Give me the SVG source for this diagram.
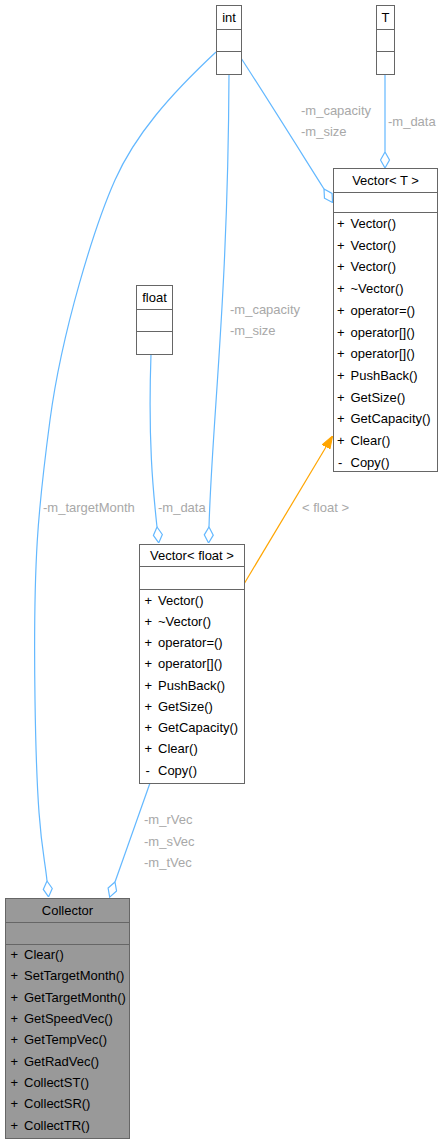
<svg xmlns="http://www.w3.org/2000/svg" width="446" height="1144" viewBox="0 0 446 1144">
<style>
.box{fill:#ffffff;stroke:#666666;stroke-width:1}
.gbox{fill:#999999;stroke:#666666;stroke-width:1}
.sep{stroke:#666666;stroke-width:1}
text{font-family:"Liberation Sans",Arial,sans-serif;font-size:13px;fill:#000000}
.t{text-anchor:middle}
.lbl{fill:#a8a8a8}
.use{fill:none;stroke:#63B8FF;stroke-width:1.2}
.inh{fill:none;stroke:#FFA500;stroke-width:1.2}
</style>
<defs>
<marker id="dia" viewBox="0 0 17 11" refX="0.5" refY="5.5" markerWidth="17" markerHeight="11" markerUnits="userSpaceOnUse" orient="auto">
<path d="M0.5,5.5 L8.5,1 L16.5,5.5 L8.5,10 Z" fill="#ffffff" stroke="#63B8FF" stroke-width="1.2"/>
</marker>
<marker id="tri" viewBox="0 0 13 10" refX="0" refY="5" markerWidth="13" markerHeight="10" markerUnits="userSpaceOnUse" orient="auto">
<path d="M0,0.5 L13,5 L0,9.5 Z" fill="#FFA500" stroke="#FFA500" stroke-width="1"/>
</marker>
</defs>
<g id="connectors">
<path class="use" d="M385,74 L385,152" marker-end="url(#dia)"/>
<path class="use" d="M241,58 C265,95 295,143 324,189" marker-end="url(#dia)"/>
<path class="use" d="M229,74 C228,300 212,420 209,527" marker-end="url(#dia)"/>
<path class="use" d="M151,354 C148,440 153,490 157,527" marker-end="url(#dia)"/>
<path class="use" d="M216,52 C170,95 135,135 115,180 C95,225 62,330 50,420 C38,510 33,560 35,700 C37,840 44,850 47,881" marker-end="url(#dia)"/>
<path class="use" d="M150,783 L115,882" marker-end="url(#dia)"/>
<path class="inh" d="M244,584 L326,447" marker-end="url(#tri)"/>
<text class="lbl" x="301" y="115">-m_capacity</text>
<text class="lbl" x="301" y="136">-m_size</text>
<text class="lbl" x="388" y="126">-m_data</text>
<text class="lbl" x="230" y="314">-m_capacity</text>
<text class="lbl" x="230" y="335">-m_size</text>
<text class="lbl" x="43" y="512">-m_targetMonth</text>
<text class="lbl" x="158" y="512">-m_data</text>
<text class="lbl" x="302" y="512">&lt; float &gt;</text>
<text class="lbl" x="144" y="824">-m_rVec</text>
<text class="lbl" x="144" y="846">-m_sVec</text>
<text class="lbl" x="144" y="867">-m_tVec</text>
</g>
<g id="node-int">
<rect class="box" x="216.5" y="5.5" width="25" height="69"/>
<line class="sep" x1="216.5" y1="29.5" x2="241.5" y2="29.5"/>
<line class="sep" x1="216.5" y1="51.5" x2="241.5" y2="51.5"/>
<text class="t" x="229" y="21.5">int</text>
</g>
<g id="node-T">
<rect class="box" x="376.5" y="5.5" width="18" height="69"/>
<line class="sep" x1="376.5" y1="29.5" x2="394.5" y2="29.5"/>
<line class="sep" x1="376.5" y1="51.5" x2="394.5" y2="51.5"/>
<text class="t" x="385.5" y="21.5">T</text>
</g>
<g id="node-float">
<rect class="box" x="136.5" y="285.5" width="36" height="69"/>
<line class="sep" x1="136.5" y1="309.5" x2="172.5" y2="309.5"/>
<line class="sep" x1="136.5" y1="331.5" x2="172.5" y2="331.5"/>
<text class="t" x="154.5" y="301.5">float</text>
</g>
<g id="node-VectorT">
<rect class="box" x="333.5" y="168.5" width="104" height="303"/>
<line class="sep" x1="333.5" y1="192.5" x2="437.5" y2="192.5"/>
<line class="sep" x1="333.5" y1="212.5" x2="437.5" y2="212.5"/>
<text class="t" x="385.5" y="184.5">Vector&lt; T &gt;</text>
<text><tspan x="337" y="228">+</tspan><tspan x="350.5" y="228">Vector()</tspan></text>
<text><tspan x="337" y="249.7">+</tspan><tspan x="350.5" y="249.7">Vector()</tspan></text>
<text><tspan x="337" y="271.4">+</tspan><tspan x="350.5" y="271.4">Vector()</tspan></text>
<text><tspan x="337" y="293.1">+</tspan><tspan x="350.5" y="293.1">~Vector()</tspan></text>
<text><tspan x="337" y="314.8">+</tspan><tspan x="350.5" y="314.8">operator=()</tspan></text>
<text><tspan x="337" y="336.5">+</tspan><tspan x="350.5" y="336.5">operator[]()</tspan></text>
<text><tspan x="337" y="358.2">+</tspan><tspan x="350.5" y="358.2">operator[]()</tspan></text>
<text><tspan x="337" y="379.9">+</tspan><tspan x="350.5" y="379.9">PushBack()</tspan></text>
<text><tspan x="337" y="401.6">+</tspan><tspan x="350.5" y="401.6">GetSize()</tspan></text>
<text><tspan x="337" y="423.3">+</tspan><tspan x="350.5" y="423.3">GetCapacity()</tspan></text>
<text><tspan x="337" y="445">+</tspan><tspan x="350.5" y="445">Clear()</tspan></text>
<text><tspan x="338" y="466.7">-</tspan><tspan x="350.5" y="466.7">Copy()</tspan></text>
</g>
<g id="node-VectorFloat">
<rect class="box" x="139.5" y="544.5" width="105" height="239"/>
<line class="sep" x1="139.5" y1="566.5" x2="244.5" y2="566.5"/>
<line class="sep" x1="139.5" y1="589.5" x2="244.5" y2="589.5"/>
<text class="t" x="192" y="559.5">Vector&lt; float &gt;</text>
<text><tspan x="144.5" y="604.5">+</tspan><tspan x="158" y="604.5">Vector()</tspan></text>
<text><tspan x="144.5" y="625.75">+</tspan><tspan x="158" y="625.75">~Vector()</tspan></text>
<text><tspan x="144.5" y="647">+</tspan><tspan x="158" y="647">operator=()</tspan></text>
<text><tspan x="144.5" y="668.25">+</tspan><tspan x="158" y="668.25">operator[]()</tspan></text>
<text><tspan x="144.5" y="689.5">+</tspan><tspan x="158" y="689.5">PushBack()</tspan></text>
<text><tspan x="144.5" y="710.75">+</tspan><tspan x="158" y="710.75">GetSize()</tspan></text>
<text><tspan x="144.5" y="732">+</tspan><tspan x="158" y="732">GetCapacity()</tspan></text>
<text><tspan x="144.5" y="753.25">+</tspan><tspan x="158" y="753.25">Clear()</tspan></text>
<text><tspan x="145.5" y="774.5">-</tspan><tspan x="158" y="774.5">Copy()</tspan></text>
</g>
<g id="node-Collector">
<rect class="gbox" x="5.5" y="898.5" width="124" height="240"/>
<line class="sep" x1="5.5" y1="922.5" x2="129.5" y2="922.5"/>
<line class="sep" x1="5.5" y1="944.5" x2="129.5" y2="944.5"/>
<text class="t" x="67.5" y="915">Collector</text>
<text><tspan x="10.5" y="958.8">+</tspan><tspan x="24" y="958.8">Clear()</tspan></text>
<text><tspan x="10.5" y="980.1">+</tspan><tspan x="24" y="980.1">SetTargetMonth()</tspan></text>
<text><tspan x="10.5" y="1001.5">+</tspan><tspan x="24" y="1001.5">GetTargetMonth()</tspan></text>
<text><tspan x="10.5" y="1022.8">+</tspan><tspan x="24" y="1022.8">GetSpeedVec()</tspan></text>
<text><tspan x="10.5" y="1044.2">+</tspan><tspan x="24" y="1044.2">GetTempVec()</tspan></text>
<text><tspan x="10.5" y="1065.5">+</tspan><tspan x="24" y="1065.5">GetRadVec()</tspan></text>
<text><tspan x="10.5" y="1086.9">+</tspan><tspan x="24" y="1086.9">CollectST()</tspan></text>
<text><tspan x="10.5" y="1108.2">+</tspan><tspan x="24" y="1108.2">CollectSR()</tspan></text>
<text><tspan x="10.5" y="1129.5">+</tspan><tspan x="24" y="1129.5">CollectTR()</tspan></text>
</g>
</svg>
